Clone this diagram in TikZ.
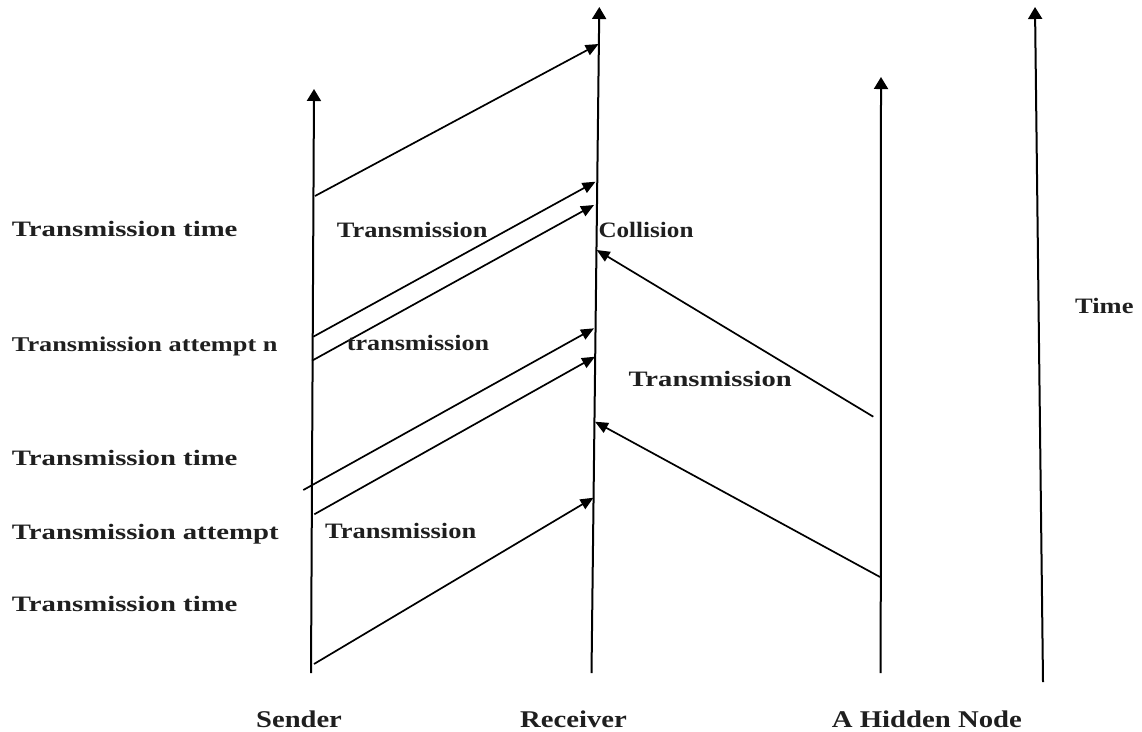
\documentclass[tikz,border=0pt]{standalone}
\usepackage{fontspec}
\setmainfont{Liberation Serif}
\usepackage{graphicx}
\usetikzlibrary{arrows.meta}
\newcommand{\wlab}[3]{\resizebox{#1pt}{\height}{\fontsize{#2}{#2}\selectfont\bfseries #3}}
\begin{document}
\begin{tikzpicture}[x=1pt,y=-1pt,
  lifeline/.style={line width=2pt,-{Triangle[length=12pt,width=14pt]}},
  msg/.style={line width=1.7pt,-{Triangle[length=13pt,width=11pt]}},
  lab/.style={anchor=base west,inner sep=0pt,text=black!88}]
\useasboundingbox (0,0) rectangle (1142,731);
% lifeline end points
\coordinate (s0) at (311,673);   \coordinate (s1) at (314,89);
\coordinate (r0) at (591.5,673); \coordinate (r1) at (599.3,7);
\coordinate (h0) at (880.7,673); \coordinate (h1) at (881,77);
\coordinate (t0) at (1043,682);  \coordinate (t1) at (1035,7);
\draw[lifeline] (s0) -- (s1);
\draw[lifeline] (r0) -- (r1);
\draw[lifeline] (h0) -- (h1);
\draw[lifeline] (t0) -- (t1);
% message end points
\coordinate (a1s) at (315,196);     \coordinate (a1e) at (598.6,44);
\coordinate (a2s) at (313.3,336.7); \coordinate (a2e) at (595.5,181.7);
\coordinate (a3s) at (312,360.7);   \coordinate (a3e) at (594,205);
\coordinate (a4s) at (303.3,490);   \coordinate (a4e) at (594,328.3);
\coordinate (a5s) at (314.3,514.3); \coordinate (a5e) at (595,356.7);
\coordinate (a6s) at (314,664);     \coordinate (a6e) at (593.5,497.7);
\coordinate (b1s) at (873.3,416.7); \coordinate (b1e) at (596.7,250);
\coordinate (b2s) at (880,577);     \coordinate (b2e) at (595,421.7);
\draw[msg] (a1s) -- (a1e);
\draw[msg] (a2s) -- (a2e);
\draw[msg] (a3s) -- (a3e);
\draw[msg] (a4s) -- (a4e);
\draw[msg] (a5s) -- (a5e);
\draw[msg] (a6s) -- (a6e);
\draw[msg] (b1s) -- (b1e);
\draw[msg] (b2s) -- (b2e);
% left labels
\node[lab] (l1) at (11.7,236.7) {\wlab{225.6}{22}{Transmission time}};
\node[lab] (l2) at (11.7,351.7) {\wlab{265.6}{21}{Transmission attempt n}};
\node[lab] (l3) at (11.7,465) {\wlab{225.6}{22}{Transmission time}};
\node[lab] (l4) at (11.7,539) {\wlab{266.7}{22}{Transmission attempt}};
\node[lab] (l5) at (11.7,611.7) {\wlab{225.6}{22}{Transmission time}};
% middle labels
\node[lab] (m1) at (336.7,237.3) {\wlab{150.6}{22}{Transmission}};
\node[lab] (m2) at (346.7,350.7) {\wlab{142.3}{22}{transmission}};
\node[lab] (m3) at (598.3,237.3) {\wlab{95}{22}{Collision}};
\node[lab] (m4) at (628.3,386.7) {\wlab{163.3}{22}{Transmission}};
\node[lab] (m5) at (325,538.3) {\wlab{151}{22}{Transmission}};
\node[lab] (tm) at (1075,313.3) {\wlab{58.3}{22}{Time}};
% bottom labels
\node[lab] (sn) at (256,727) {\wlab{85.7}{24}{Sender}};
\node[lab] (rc) at (520,727) {\wlab{106.7}{24}{Receiver}};
\node[lab] (hn) at (831.7,727) {\wlab{190}{24}{A Hidden Node}};
\end{tikzpicture}
\end{document}
